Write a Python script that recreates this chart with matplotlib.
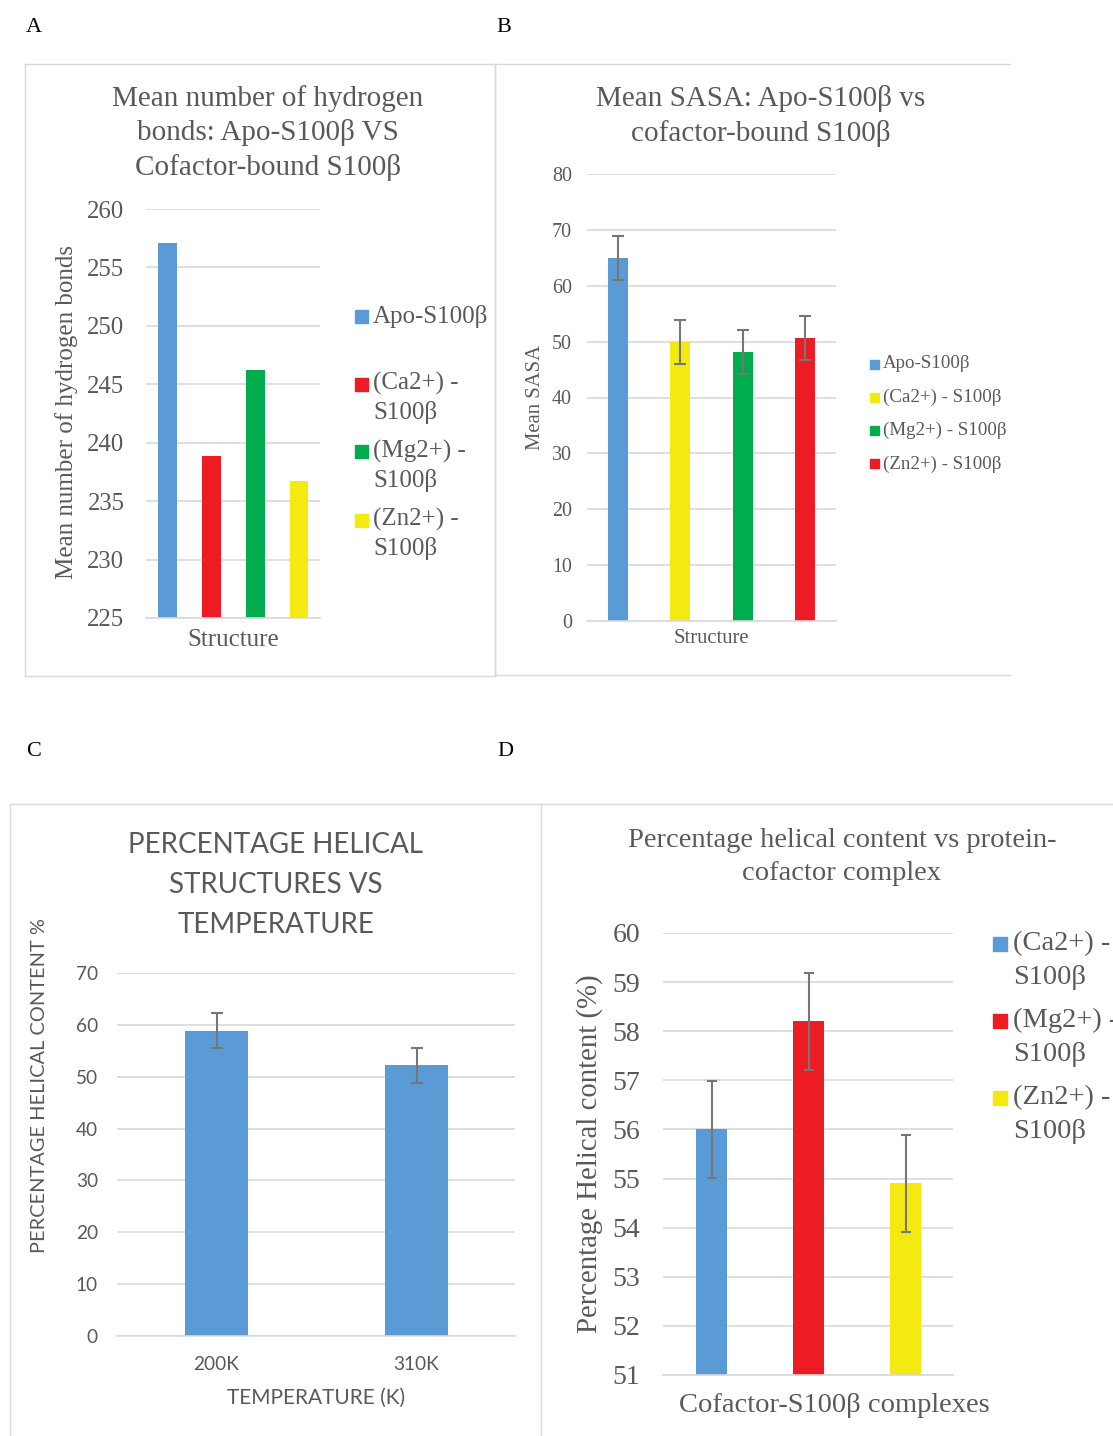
import numpy as np
import matplotlib
matplotlib.use('Agg')
import matplotlib.pyplot as plt
from matplotlib.patches import Rectangle
from matplotlib.lines import Line2D

# ---- data -------------------------------------------------------------
# A: mean number of hydrogen bonds
hb_labels = ['Apo-S100β', '(Ca2+) -\nS100β', '(Mg2+) -\nS100β', '(Zn2+) -\nS100β']
hb_values = [257.1, 238.9, 246.2, 236.7]
hb_colors = ['#5b9bd5', '#ed1c24', '#00ad4e', '#f5e912']

# B: mean SASA
sasa_labels = ['Apo-S100β', '(Ca2+) - S100β', '(Mg2+) - S100β', '(Zn2+) - S100β']
sasa_values = [65.0, 49.9, 48.1, 50.7]
sasa_err = [3.95, 3.95, 3.95, 3.95]
sasa_colors = ['#5b9bd5', '#f5e912', '#00ad4e', '#ed1c24']

# C: helical content vs temperature
temp_labels = ['200K', '310K']
helix_temp = [58.9, 52.2]
helix_temp_err = [3.3, 3.4]

# D: helical content per cofactor complex
cplx_labels = ['(Ca2+) -\nS100β', '(Mg2+) -\nS100β', '(Zn2+) -\nS100β']
helix_cplx = [56.0, 58.2, 54.9]
helix_cplx_err = [0.98, 0.98, 0.98]
cplx_colors = ['#5b9bd5', '#ed1c24', '#f5e912']

# ---- layout helpers (pixel coords, origin top-left) -------------------
W, H = 1113, 1436
GRAY = '#595959'
GRID = '#d9d9d9'
ERR = '#767676'
SERIF = 'Liberation Serif'
SANS = 'Lato'

fig = plt.figure(figsize=(W / 100, H / 100), dpi=100)
fig.patch.set_facecolor('white')


def fx(x):
    return x / W


def fy(y):
    return 1 - y / H


def add_ax(x0, y0, x1, y1):
    return fig.add_axes([fx(x0), fy(y1), (x1 - x0) / W, (y1 - y0) / H])


def frame(x0, y0, x1, y1, sides='tlbr'):
    pts = {'t': ([x0, x1], [y0, y0]), 'b': ([x0, x1], [y1, y1]),
           'l': ([x0, x0], [y0, y1]), 'r': ([x1, x1], [y0, y1])}
    for s in sides:
        xs, ys = pts[s]
        fig.add_artist(Line2D([fx(v) for v in xs], [fy(v) for v in ys],
                              color=GRID, lw=1.0))


def style(ax, ymin, ymax, step, fs, family, pad):
    ax.set_ylim(ymin, ymax)
    ax.set_yticks(np.arange(ymin, ymax + step / 2, step))
    ax.yaxis.grid(True, color=GRID, lw=1.2)
    ax.set_axisbelow(True)
    for s in ['top', 'right', 'left']:
        ax.spines[s].set_visible(False)
    ax.spines['bottom'].set_color(GRID)
    ax.spines['bottom'].set_linewidth(1.2)
    ax.tick_params(axis='y', length=0, colors=GRAY, labelsize=fs, pad=pad)
    for t in ax.get_yticklabels():
        t.set_family(family)


def legend(x, y0, step, labels, colors, size, fs, lsp, gap, spacing):
    for i, (lab, c) in enumerate(zip(labels, colors)):
        y = y0 + step * i
        fig.patches.append(Rectangle((fx(x), fy(y + size / 2)), size / W, size / H,
                                     transform=fig.transFigure, color=c))
        n = lab.count('\n') + 1
        fig.text(fx(x + size + gap), fy(y + (n - 1) * lsp / 2), lab, ha='left',
                 va='center', fontsize=fs, color=GRAY, family=SERIF, linespacing=spacing)


# panel letters
for lab, x, y in [('A', 34, 27), ('B', 504, 27), ('C', 34, 751), ('D', 505, 751)]:
    fig.text(fx(x), fy(y), lab, ha='center', va='center', fontsize=16,
             family=SERIF, color='black')

# ---- A ----------------------------------------------------------------
frame(25, 64, 495, 676)
fig.text(fx(268), fy(133), 'Mean number of hydrogen\nbonds: Apo-S100β VS\nCofactor-bound S100β',
         ha='center', va='center', fontsize=21, color=GRAY, family=SERIF, linespacing=1.36)
axA = add_ax(146, 209, 320, 618)
xa = np.arange(len(hb_values))
axA.bar(xa, hb_values, width=0.43, color=hb_colors)
axA.set_xlim(-0.49, 3.48)
style(axA, 225, 260, 5, 17.8, SERIF, 15.5)
axA.set_xticks([1.5])
axA.set_xticklabels(['Structure'], family=SERIF, fontsize=18, color=GRAY)
axA.tick_params(axis='x', length=0, pad=7.6)
fig.text(fx(67), fy(412), 'Mean number of hydrogen bonds', rotation=90, ha='center',
         va='center', fontsize=18, color=GRAY, family=SERIF)
legend(355, 316, 68, hb_labels, hb_colors, 13, 18, 28, 5, 1.32)

# ---- B ----------------------------------------------------------------
frame(495, 64, 1010, 675, sides='tlb')
fig.text(fx(761), fy(116), 'Mean SASA: Apo-S100β vs\ncofactor-bound S100β',
         ha='center', va='center', fontsize=21, color=GRAY, family=SERIF, linespacing=1.36)
axB = add_ax(587, 174, 836, 621)
xb = np.arange(len(sasa_values))
axB.bar(xb, sasa_values, width=0.32, color=sasa_colors)
axB.errorbar(xb, sasa_values, yerr=sasa_err, fmt='none', ecolor=ERR, elinewidth=1.5,
             capsize=4.3, capthick=1.5)
axB.set_xlim(-0.5, 3.5)
style(axB, 0, 80, 10, 14.4, SERIF, 10.8)
axB.set_xticks([1.5])
axB.set_xticklabels(['Structure'], family=SERIF, fontsize=14.9, color=GRAY)
axB.tick_params(axis='x', length=0, pad=6)
fig.text(fx(535), fy(397), 'Mean SASA', rotation=90, ha='center', va='center',
         fontsize=14.9, color=GRAY, family=SERIF)
legend(870, 364, 33.3, sasa_labels, sasa_colors, 9, 13.6, 0, 4, 1.3)

# ---- C ----------------------------------------------------------------
frame(10, 804, 541, 1440, sides='tlb')
fig.text(fx(276), fy(885), 'PERCENTAGE HELICAL\nSTRUCTURES VS\nTEMPERATURE',
         ha='center', va='center', fontsize=20, color=GRAY, family=SANS, linespacing=1.66)
axC = add_ax(117, 973, 515, 1336)
xc = np.arange(len(helix_temp))
axC.bar(xc, helix_temp, width=0.315, color='#5b9bd5')
axC.errorbar(xc, helix_temp, yerr=helix_temp_err, fmt='none', ecolor=ERR, elinewidth=1.5,
             capsize=4, capthick=1.5)
axC.set_xlim(-0.4975, 1.4925)
style(axC, 0, 70, 10, 13.7, SANS, 13.7)
axC.set_xticks(xc)
axC.set_xticklabels(temp_labels, family=SANS, fontsize=13.7, color=GRAY)
axC.tick_params(axis='x', length=0, pad=14.5)
fig.text(fx(40), fy(1086), 'PERCENTAGE HELICAL CONTENT %', rotation=90, ha='center',
         va='center', fontsize=14.4, color=GRAY, family=SANS)
fig.text(fx(316), fy(1398), 'TEMPERATURE (K)', ha='center', va='center',
         fontsize=15, color=GRAY, family=SANS)

# ---- D ----------------------------------------------------------------
frame(541, 804, 1120, 1440, sides='tlb')
fig.text(fx(842), fy(857), 'Percentage helical content vs protein-\ncofactor complex',
         ha='center', va='center', fontsize=20.5, color=GRAY, family=SERIF, linespacing=1.43)
axD = add_ax(663, 933, 953, 1375)
xd = np.arange(len(helix_cplx))
axD.bar(xd, helix_cplx, width=0.32, color=cplx_colors)
axD.errorbar(xd, helix_cplx, yerr=helix_cplx_err, fmt='none', ecolor=ERR, elinewidth=1.5,
             capsize=3.6, capthick=1.5)
axD.set_xlim(-0.505, 2.485)
style(axD, 51, 60, 1, 20, SERIF, 16.5)
axD.set_xticks([])
fig.text(fx(834), fy(1405), 'Cofactor-S100β complexes', ha='center', va='center',
         fontsize=20.5, color=GRAY, family=SERIF)
fig.text(fx(590), fy(1154), 'Percentage Helical content (%)', rotation=90, ha='center',
         va='center', fontsize=20.7, color=GRAY, family=SERIF)
legend(993, 944, 77, cplx_labels, cplx_colors, 14, 20.5, 33, 6, 1.43)

fig.savefig('out.png', dpi=100, facecolor='white')
